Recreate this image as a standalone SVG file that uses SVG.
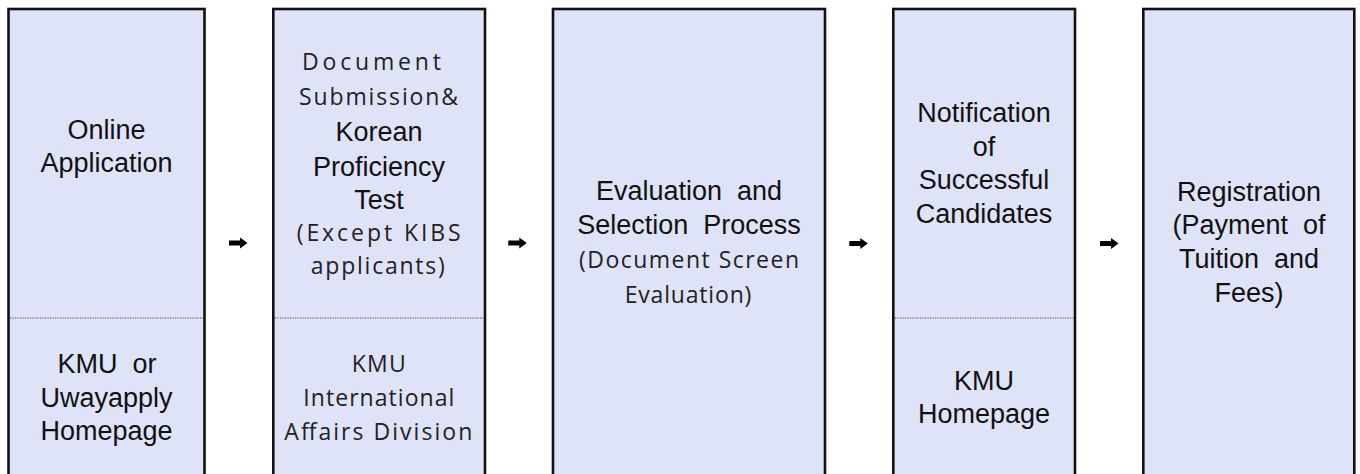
<svg xmlns="http://www.w3.org/2000/svg" width="1360" height="474" viewBox="0 0 1360 474">
<style>
.box{fill:#dfe3f8;stroke:#111;stroke-width:2.6}
.sep{stroke:#444;stroke-width:1;stroke-dasharray:1.2 1.3;fill:none}
.d{font-family:"Liberation Sans",Arial,sans-serif;font-size:27px;fill:#111;text-anchor:middle;white-space:pre}
.l{font-family:"Open Sans","Liberation Sans",sans-serif;font-size:23px;fill:#222;text-anchor:middle}
.arr{fill:#000}
</style>
<defs>
<path id="ar" d="M0,-2.6 H11 V-5.6 L18.5,0 L11,5.6 V2.6 H0 Z"/>
</defs>
<rect width="1360" height="474" fill="#fff"/>
<g id="node1">
<rect class="box" x="8.5" y="9" width="196" height="480"/>
<line class="sep" x1="10" y1="318" x2="203" y2="318"/>
<text class="d" x="106.5" y="138.5">Online</text>
<text class="d" x="106.5" y="172">Application</text>
<text class="d" x="107" y="372.5">KMU  or</text>
<text class="d" x="106.5" y="406.5">Uwayapply</text>
<text class="d" x="106.5" y="440">Homepage</text>
</g>
<g id="node2">
<rect class="box" x="273.3" y="9" width="211.7" height="480"/>
<line class="sep" x1="275" y1="318" x2="483.5" y2="318"/>
<text class="l" x="371.5" y="70" textLength="139">Document</text>
<text class="l" x="378.5" y="105" textLength="159">Submission&amp;</text>
<text class="d" x="379" y="141">Korean</text>
<text class="d" x="379" y="175.5">Proficiency</text>
<text class="d" x="379" y="208.5">Test</text>
<text class="l" x="378.7" y="241" textLength="164">(Except KIBS</text>
<text class="l" x="377.8" y="274" textLength="134">applicants)</text>
<text class="l" x="378.7" y="372" textLength="54">KMU</text>
<text class="l" x="378.8" y="406" textLength="151">International</text>
<text class="l" x="378.3" y="440" textLength="188">Affairs Division</text>
</g>
<g id="node3">
<rect class="box" x="553" y="9" width="272" height="480"/>
<text class="d" x="689" y="200">Evaluation  and</text>
<text class="d" x="689" y="234.3">Selection  Process</text>
<text class="l" x="689" y="268.3" textLength="220">(Document Screen</text>
<text class="l" x="688" y="302.5" textLength="126.7">Evaluation)</text>
</g>
<g id="node4">
<rect class="box" x="893.3" y="9" width="181.7" height="480"/>
<line class="sep" x1="895" y1="318" x2="1073.5" y2="318"/>
<text class="d" x="984" y="121.7">Notification</text>
<text class="d" x="984" y="155.5">of</text>
<text class="d" x="984" y="189">Successful</text>
<text class="d" x="984" y="222.5">Candidates</text>
<text class="d" x="984" y="390">KMU</text>
<text class="d" x="984" y="423.3">Homepage</text>
</g>
<g id="node5">
<rect class="box" x="1143.3" y="9" width="211" height="480"/>
<text class="d" x="1249" y="200.7">Registration</text>
<text class="d" x="1249" y="233.5">(Payment  of</text>
<text class="d" x="1249" y="268.3">Tuition  and</text>
<text class="d" x="1249" y="301.7">Fees)</text>
</g>
<g id="connectors" class="arr">
<use href="#ar" x="229" y="243"/>
<use href="#ar" x="508.3" y="243"/>
<use href="#ar" x="849.3" y="243.5"/>
<use href="#ar" x="1100" y="243.5"/>
</g>
</svg>
